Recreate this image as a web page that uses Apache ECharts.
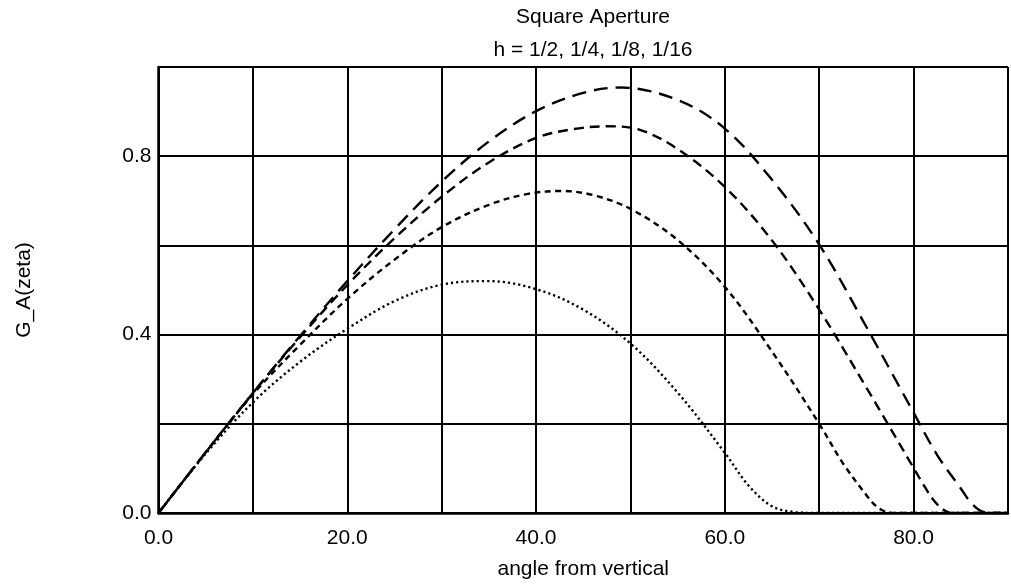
<!DOCTYPE html>
<html>
<head>
<meta charset="utf-8">
<script src="https://cdn.jsdelivr.net/npm/echarts@6/dist/echarts.min.js"></script>
<style>
  html, body { margin: 0; padding: 0; background: #fff; }
  #chart { width: 1011px; height: 585px; }
</style>
</head>
<body>
<div id="chart"></div>
<script>
// Aperture gain G_A versus angle from vertical, one curve per h value.
// Each curve includes its maximum so the smoothed line peaks there.
const hLabels = ['h = 1/2', 'h = 1/4', 'h = 1/8', 'h = 1/16'];

const angleHalf = [0, 5, 10, 15, 20, 25, 30, 35, 40, 45, 49, 55, 60, 65, 70, 75, 80, 82.5, 85, 86, 87, 88, 90];
const gainHalf  = [0, 0.136, 0.269, 0.397, 0.52, 0.636, 0.743, 0.833, 0.901, 0.942, 0.954, 0.926, 0.862, 0.747, 0.602, 0.417, 0.225, 0.13, 0.055, 0.025, 0.006, 0, 0];

const angleQuarter = [0, 5, 10, 15, 20, 25, 30, 35, 40, 44, 47.5, 51, 55, 60, 65, 70, 75, 80, 81, 82, 83, 84, 90];
const gainQuarter  = [0, 0.136, 0.269, 0.394, 0.511, 0.616, 0.709, 0.786, 0.841, 0.861, 0.867, 0.859, 0.816, 0.731, 0.611, 0.456, 0.281, 0.101, 0.065, 0.032, 0.01, 0, 0];

const angleEighth = [0, 5, 10, 15, 20, 25, 30, 35, 39, 42.7, 46, 50, 55, 60, 65, 70, 72.5, 75, 76, 77, 78, 90];
const gainEighth  = [0, 0.136, 0.266, 0.377, 0.48, 0.568, 0.641, 0.691, 0.715, 0.722, 0.713, 0.682, 0.612, 0.507, 0.362, 0.2, 0.112, 0.04, 0.016, 0.003, 0, 0];

const angleSixteenth = [0, 5, 10, 15, 20, 25, 30, 34.9, 40, 45, 50, 55, 60, 62.5, 65, 67.5, 70, 90];
const gainSixteenth  = [0, 0.133, 0.248, 0.339, 0.413, 0.475, 0.512, 0.52, 0.502, 0.456, 0.38, 0.27, 0.135, 0.062, 0.015, 0.002, 0, 0];

const xTickLabels = ['0.0', '20.0', '40.0', '60.0', '80.0'];
const yTickLabels = ['0.0', '0.4', '0.8'];

const FONT = 'Liberation Sans, Arial, Helvetica, sans-serif';
const INK = '#000';

function pairs(xs, ys) {
  return xs.map((x, i) => [x, ys[i]]);
}

const curves = [
  { name: hLabels[0], x: angleHalf, y: gainHalf, dash: [14, 8] },
  { name: hLabels[1], x: angleQuarter, y: gainQuarter, dash: [10, 6] },
  { name: hLabels[2], x: angleEighth, y: gainEighth, dash: [6, 4.5] },
  { name: hLabels[3], x: angleSixteenth, y: gainSixteenth, dash: [2.2, 3] }
];

const chart = echarts.init(document.getElementById('chart'), null, { renderer: 'canvas' });

chart.setOption({
  backgroundColor: '#fff',
  animation: false,
  title: [
    {
      text: 'Square Aperture',
      left: 588, top: 2, textAlign: 'center',
      textStyle: { fontFamily: FONT, fontSize: 21, fontWeight: 'normal', color: INK }
    },
    {
      text: 'h = 1/2, 1/4, 1/8, 1/16',
      left: 588, top: 35, textAlign: 'center',
      textStyle: { fontFamily: FONT, fontSize: 21, fontWeight: 'normal', color: INK }
    }
  ],
  grid: { left: 158.5, right: -8, top: 67, bottom: 72, containLabel: false },
  xAxis: {
    type: 'value', min: 0, max: 90, interval: 10,
    name: 'angle from vertical', nameLocation: 'middle', nameGap: 46,
    nameTextStyle: { fontFamily: FONT, fontSize: 21, color: INK },
    axisLine: { show: true, onZero: false, lineStyle: { color: INK, width: 2.5 } },
    axisTick: { show: false },
    axisLabel: {
      margin: 15, fontFamily: FONT, fontSize: 21, color: INK,
      formatter: v => (xTickLabels.includes(v.toFixed(1)) ? v.toFixed(1) : '')
    },
    splitLine: { show: true, lineStyle: { color: INK, width: 2 } }
  },
  yAxis: {
    type: 'value', min: 0, max: 1, interval: 0.2,
    name: 'G_A(zeta)', nameLocation: 'middle', nameGap: 124, nameRotate: 90,
    nameTextStyle: { fontFamily: FONT, fontSize: 21, color: INK },
    axisLine: { show: true, lineStyle: { color: INK, width: 2.5 } },
    axisTick: { show: false },
    axisLabel: {
      margin: 7, fontFamily: FONT, fontSize: 21, color: INK,
      formatter: v => (yTickLabels.includes(v.toFixed(1)) ? v.toFixed(1) : '')
    },
    splitLine: { show: true, lineStyle: { color: INK, width: 2 } }
  },
  series: curves.map(c => ({
    name: c.name,
    type: 'line',
    data: pairs(c.x, c.y),
    smooth: 0.35,
    showSymbol: false,
    symbol: 'none',
    clip: true,
    lineStyle: { color: INK, width: 2.4, type: c.dash, cap: 'butt' }
  }))
});
</script>
</body>
</html>
